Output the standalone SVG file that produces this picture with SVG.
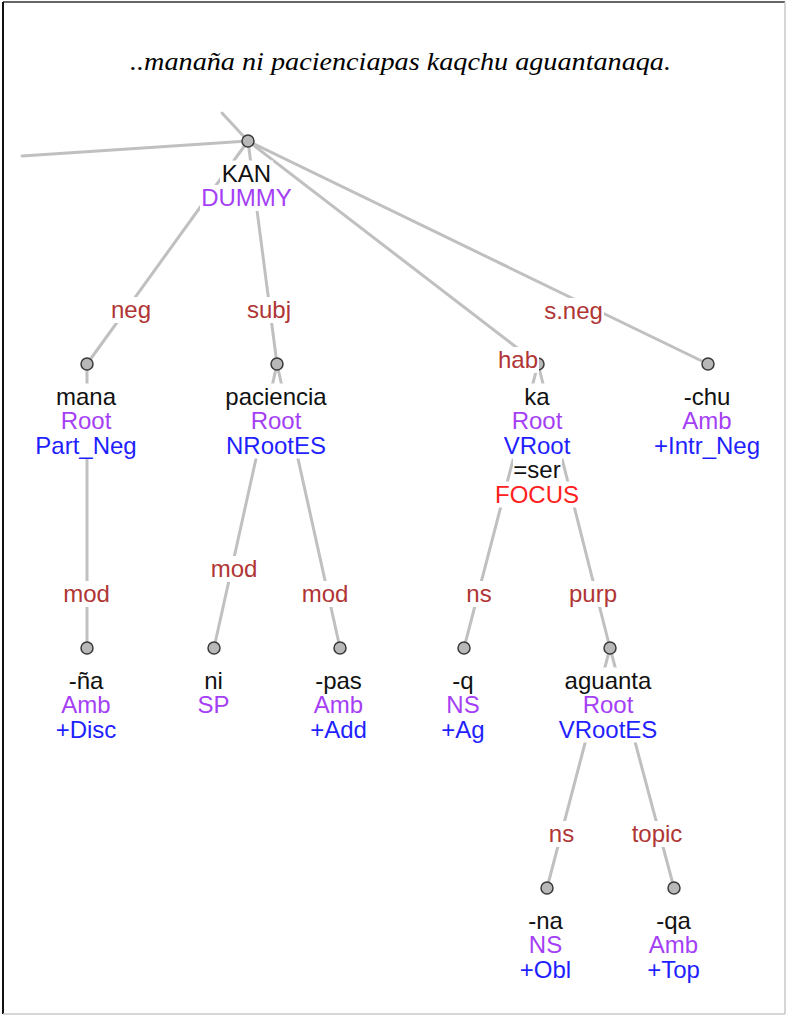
<svg xmlns="http://www.w3.org/2000/svg" width="786" height="1016" viewBox="0 0 786 1016">
<style>
.e{stroke:#c0c0c0;stroke-width:3;fill:none;stroke-linecap:round}
.c{fill:#b8b8b8;stroke:#3a3a3a;stroke-width:1.5}
.m{fill:#ffffff}
text{font-family:"Liberation Sans",Arial,sans-serif;font-size:24px;text-anchor:middle}
.w{fill:#111111}
.p{fill:#a53ff5}
.b{fill:#1f1fff}
.r{fill:#ff2020}
.l{fill:#b03535}
.t{font-family:"Liberation Serif","Times New Roman",serif;font-style:italic;font-size:25px;fill:#000}
</style>
<rect x="0" y="0" width="786" height="1016" fill="#ffffff"/>
<g id="frame">
<line x1="3" y1="2" x2="785" y2="2" stroke="#333333" stroke-width="1.5"/>
<line x1="3" y1="2" x2="3" y2="1014" stroke="#111111" stroke-width="2"/>
<line x1="785" y1="2" x2="785" y2="1014" stroke="#c8c8c8" stroke-width="1.5"/>
<line x1="3" y1="1014" x2="785" y2="1014" stroke="#c8c8c8" stroke-width="1.5"/>
</g>
<text class="t" x="400.5" y="70" textLength="541" lengthAdjust="spacingAndGlyphs">..manaña ni pacienciapas kaqchu aguantanaqa.</text>
<g id="connectors">
<line class="e" x1="222" y1="113" x2="248" y2="141"/>
<line class="e" x1="22" y1="156" x2="248" y2="141"/>
<line class="e" x1="248" y1="141" x2="87" y2="364"/>
<line class="e" x1="248" y1="141" x2="277" y2="364"/>
<line class="e" x1="248" y1="141" x2="538" y2="364"/>
<line class="e" x1="248" y1="141" x2="708" y2="364"/>
<line class="e" x1="87" y1="364" x2="87" y2="648"/>
<line class="e" x1="277" y1="364" x2="214" y2="648"/>
<line class="e" x1="277" y1="364" x2="340" y2="648"/>
<line class="e" x1="538" y1="364" x2="464" y2="648"/>
<line class="e" x1="538" y1="364" x2="610" y2="648"/>
<line class="e" x1="610" y1="648" x2="547" y2="888"/>
<line class="e" x1="610" y1="648" x2="674" y2="888"/>
</g>
<g id="node-KAN">
<circle class="c" cx="248" cy="141" r="6"/>
<rect class="m" x="220" y="160.5" width="53" height="26"/>
<rect class="m" x="200" y="185" width="93" height="26"/>
<text class="w" x="246.5" y="181.5">KAN</text>
<text class="p" x="246.5" y="206">DUMMY</text>
</g>
<g id="node-mana">
<circle class="c" cx="87" cy="364" r="6"/>
<rect class="m" x="55" y="383.5" width="62" height="26"/>
<rect class="m" x="60" y="408" width="53" height="26"/>
<rect class="m" x="34" y="432.5" width="104" height="26"/>
<text class="w" x="86" y="404.5">mana</text>
<text class="p" x="86" y="429">Root</text>
<text class="b" x="86" y="453.5">Part_Neg</text>
</g>
<g id="node-paciencia">
<circle class="c" cx="277" cy="364" r="6"/>
<rect class="m" x="225" y="383.5" width="104" height="26"/>
<rect class="m" x="250" y="408" width="53" height="26"/>
<rect class="m" x="225" y="432.5" width="102" height="26"/>
<text class="w" x="276" y="404.5">paciencia</text>
<text class="p" x="276" y="429">Root</text>
<text class="b" x="276" y="453.5">NRootES</text>
</g>
<g id="node-ka">
<circle class="c" cx="538" cy="364" r="6"/>
<rect class="m" x="523" y="383.5" width="28" height="26"/>
<rect class="m" x="511" y="408" width="53" height="26"/>
<rect class="m" x="503" y="432.5" width="69" height="26"/>
<rect class="m" x="513" y="457" width="49" height="26"/>
<rect class="m" x="494" y="481.5" width="86" height="26"/>
<text class="w" x="537" y="404.5">ka</text>
<text class="p" x="537" y="429">Root</text>
<text class="b" x="537" y="453.5">VRoot</text>
<text class="w" x="537" y="478">=ser</text>
<text class="r" x="537" y="502.5">FOCUS</text>
</g>
<g id="node-chu">
<circle class="c" cx="708" cy="364" r="6"/>
<rect class="m" x="683" y="383.5" width="49" height="26"/>
<rect class="m" x="682" y="408" width="51" height="26"/>
<rect class="m" x="653" y="432.5" width="108" height="26"/>
<text class="w" x="707" y="404.5">-chu</text>
<text class="p" x="707" y="429">Amb</text>
<text class="b" x="707" y="453.5">+Intr_Neg</text>
</g>
<g id="node-na-disc">
<circle class="c" cx="87" cy="648" r="6"/>
<rect class="m" x="68" y="667.5" width="37" height="26"/>
<rect class="m" x="61" y="692" width="51" height="26"/>
<rect class="m" x="55" y="716.5" width="63" height="26"/>
<text class="w" x="86" y="688.5">-ña</text>
<text class="p" x="86" y="713">Amb</text>
<text class="b" x="86" y="737.5">+Disc</text>
</g>
<g id="node-ni">
<circle class="c" cx="214" cy="648" r="6"/>
<rect class="m" x="203" y="667.5" width="21" height="26"/>
<rect class="m" x="197" y="692" width="34" height="26"/>
<text class="w" x="213.5" y="688.5">ni</text>
<text class="p" x="213.5" y="713">SP</text>
</g>
<g id="node-pas">
<circle class="c" cx="340" cy="648" r="6"/>
<rect class="m" x="314" y="667.5" width="49" height="26"/>
<rect class="m" x="313" y="692" width="51" height="26"/>
<rect class="m" x="310" y="716.5" width="59" height="26"/>
<text class="w" x="338.5" y="688.5">-pas</text>
<text class="p" x="338.5" y="713">Amb</text>
<text class="b" x="338.5" y="737.5">+Add</text>
</g>
<g id="node-q">
<circle class="c" cx="464" cy="648" r="6"/>
<rect class="m" x="451" y="667.5" width="24" height="26"/>
<rect class="m" x="446" y="692" width="35" height="26"/>
<rect class="m" x="441" y="716.5" width="45" height="26"/>
<text class="w" x="463" y="688.5">-q</text>
<text class="p" x="463" y="713">NS</text>
<text class="b" x="463" y="737.5">+Ag</text>
</g>
<g id="node-aguanta">
<circle class="c" cx="610" cy="648" r="6"/>
<rect class="m" x="564" y="667.5" width="89" height="26"/>
<rect class="m" x="582" y="692" width="53" height="26"/>
<rect class="m" x="558" y="716.5" width="101" height="26"/>
<text class="w" x="608" y="688.5">aguanta</text>
<text class="p" x="608" y="713">Root</text>
<text class="b" x="608" y="737.5">VRootES</text>
</g>
<g id="node-na-obl">
<circle class="c" cx="547" cy="888" r="6"/>
<rect class="m" x="527" y="907.5" width="37" height="26"/>
<rect class="m" x="528" y="932" width="35" height="26"/>
<rect class="m" x="519" y="956.5" width="53" height="26"/>
<text class="w" x="545.5" y="928.5">-na</text>
<text class="p" x="545.5" y="953">NS</text>
<text class="b" x="545.5" y="977.5">+Obl</text>
</g>
<g id="node-qa">
<circle class="c" cx="674" cy="888" r="6"/>
<rect class="m" x="655" y="907.5" width="37" height="26"/>
<rect class="m" x="648" y="932" width="51" height="26"/>
<rect class="m" x="645" y="956.5" width="57" height="26"/>
<text class="w" x="673.5" y="928.5">-qa</text>
<text class="p" x="673.5" y="953">Amb</text>
<text class="b" x="673.5" y="977.5">+Top</text>
</g>
<g id="edge-labels">
<rect class="m" x="110" y="297" width="42" height="26"/>
<text class="l" x="131" y="318">neg</text>
<rect class="m" x="246" y="297" width="46" height="26"/>
<text class="l" x="269" y="318">subj</text>
<rect class="m" x="543" y="298" width="61" height="26"/>
<text class="l" x="573.5" y="319">s.neg</text>
<rect class="m" x="497" y="347" width="42" height="26"/>
<text class="l" x="518" y="368">hab</text>
<rect class="m" x="62" y="581" width="49" height="26"/>
<text class="l" x="86.5" y="602">mod</text>
<rect class="m" x="210" y="556" width="49" height="26"/>
<text class="l" x="234" y="577">mod</text>
<rect class="m" x="301" y="581" width="49" height="26"/>
<text class="l" x="325" y="602">mod</text>
<rect class="m" x="466" y="581" width="27" height="26"/>
<text class="l" x="479" y="602">ns</text>
<rect class="m" x="568" y="581" width="50" height="26"/>
<text class="l" x="593" y="602">purp</text>
<rect class="m" x="548" y="821" width="27" height="26"/>
<text class="l" x="561.5" y="842">ns</text>
<rect class="m" x="631" y="821" width="53" height="26"/>
<text class="l" x="657" y="842">topic</text>
</g>
</svg>
